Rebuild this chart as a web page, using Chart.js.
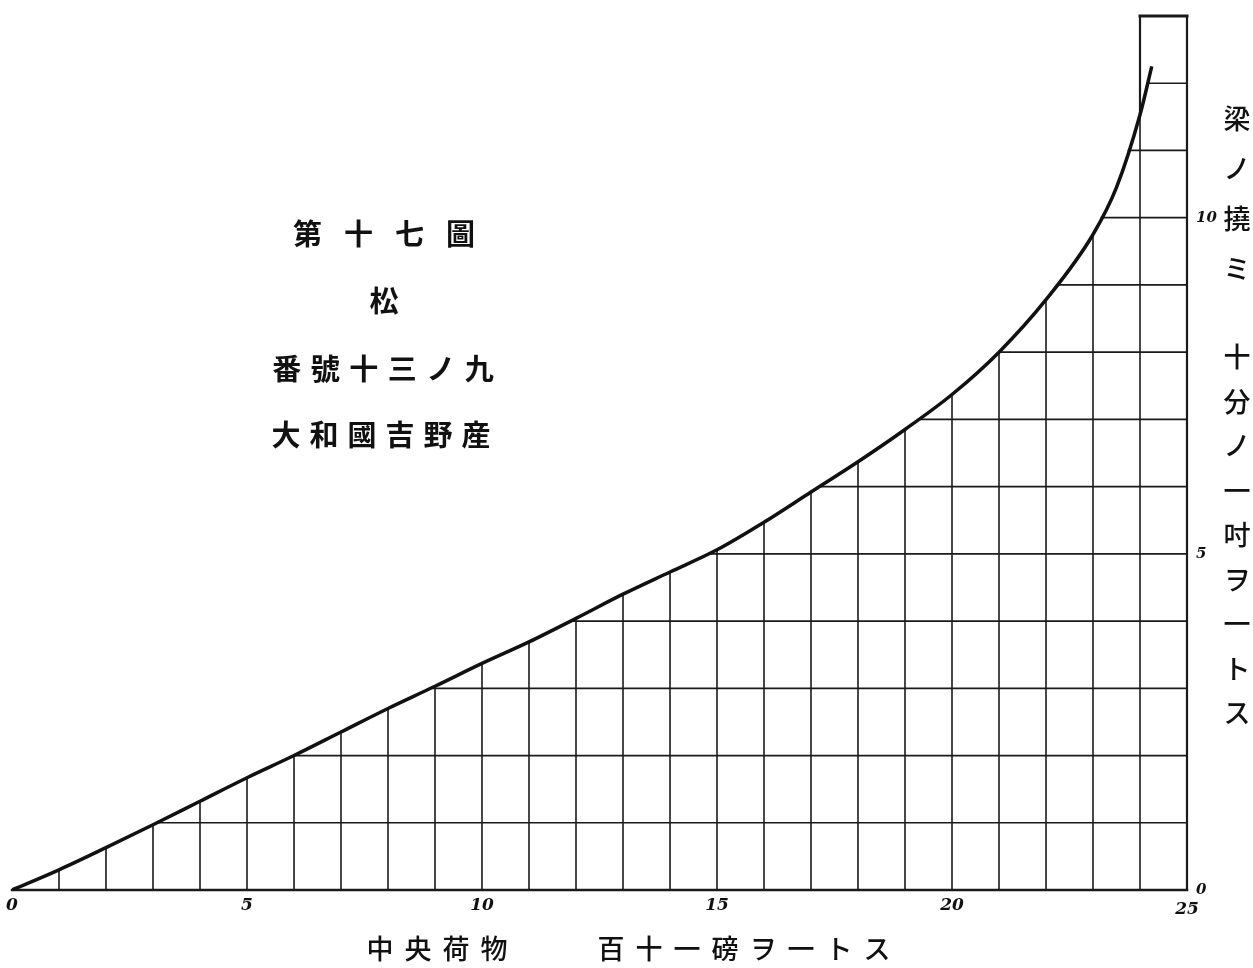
<!DOCTYPE html>
<html>
<head>
<meta charset="utf-8">
<script src="https://cdn.jsdelivr.net/npm/chart.js@4.4.0/dist/chart.umd.min.js"></script>
<style>
    html, body { margin: 0; padding: 0; background: #fff; }
    #wrap { position: relative; width: 1253px; height: 968px; overflow: hidden; }
    #chart { position: absolute; left: 0; top: 0; }
    .ch {
        position: absolute;
        transform: translate(-50%, -50%);
        font-family: "Noto Sans CJK JP", "Noto Sans CJK SC", sans-serif;
        font-weight: 700;
        color: #111;
        line-height: 1;
    }
    .ch.thin { font-weight: 500; }
</style>
</head>
<body>
<div id="wrap">
    <canvas id="chart" width="1253" height="968"></canvas>
</div>
<script>
// load at the centre (units of 110 lb) and deflection (tenths of an inch)
const loads = [0, 1, 2, 3, 4, 5, 6, 7, 8, 9, 10, 11, 12, 13, 14, 15, 16, 17, 18, 19, 20, 21, 22, 23, 23.5, 24, 24.25];
const deflections = [0, 0.30, 0.63, 0.97, 1.32, 1.67, 2.00, 2.35, 2.70, 3.03, 3.37, 3.69, 4.04, 4.40, 4.73, 5.06, 5.47, 5.92, 6.37, 6.85, 7.37, 8.00, 8.78, 9.75, 10.45, 11.53, 12.25];
const xTicks = [0, 5, 10, 15, 20, 25];
const yTicks = [0, 5, 10];
const xMax = 25;
const yMax = 13;

// texts
const titleLines = ['第十七圖', '松', '番號十三ノ九', '大和國吉野産'];
const rightTop = '梁ノ撓ミ';
const rightBottom = '十分ノ一吋ヲ一トス';
const bottomLeft = '中央荷物';
const bottomRight = '百十一磅ヲ一トス';

function curveAt(x) {
    for (let i = 1; i < loads.length; i++) {
        if (x <= loads[i]) {
            const t = (x - loads[i - 1]) / (loads[i] - loads[i - 1]);
            return deflections[i - 1] + t * (deflections[i] - deflections[i - 1]);
        }
    }
    return null;
}

function crossAt(level) {
    for (let i = 1; i < deflections.length; i++) {
        if (level <= deflections[i]) {
            const t = (level - deflections[i - 1]) / (deflections[i] - deflections[i - 1]);
            return loads[i - 1] + t * (loads[i] - loads[i - 1]);
        }
    }
    return null;
}

// grid drawn only below the curve, plus the closed box at the top right
const gridPlugin = {
    id: 'underGrid',
    beforeDatasetsDraw(chart) {
        const ctx = chart.ctx;
        const xs = chart.scales.x;
        const ys = chart.scales.y;
        ctx.save();
        ctx.strokeStyle = '#1a1a1a';
        ctx.lineCap = 'square';

        const vline = (x, y0, y1, w) => {
            ctx.lineWidth = w;
            ctx.beginPath();
            ctx.moveTo(xs.getPixelForValue(x), ys.getPixelForValue(y0));
            ctx.lineTo(xs.getPixelForValue(x), ys.getPixelForValue(y1));
            ctx.stroke();
        };

        // vertical lines
        for (let i = 1; i < 24; i++) {
            vline(i, 0, curveAt(i), 1.6);
        }
        vline(24, 0, curveAt(24), 1.6);
        vline(24, curveAt(24), yMax, 2.2);   // box side above the curve
        vline(xMax, 0, yMax, 2.2);

        // horizontal lines
        for (let k = 0; k <= yMax; k++) {
            let start = (k === yMax) ? 24 : crossAt(k);
            if (start === null) continue;
            ctx.lineWidth = (k === 0) ? 2.4 : (k === yMax ? 3 : 1.7);
            const py = ys.getPixelForValue(k);
            ctx.beginPath();
            ctx.moveTo(xs.getPixelForValue(start), py);
            ctx.lineTo(xs.getPixelForValue(xMax), py);
            ctx.stroke();
        }
        ctx.restore();
    },
    afterDraw(chart) {
        const ctx = chart.ctx;
        const xs = chart.scales.x;
        const ys = chart.scales.y;
        ctx.save();
        ctx.fillStyle = '#111';
        ctx.font = 'italic bold 17px "DejaVu Serif"';
        ctx.textAlign = 'center';
        ctx.textBaseline = 'middle';
        xTicks.forEach(v => {
            const dy = (v === xMax) ? 20 : 16;
            ctx.fillText(String(v), xs.getPixelForValue(v), ys.getPixelForValue(0) + dy);
        });
        ctx.font = 'italic bold 15px "DejaVu Serif"';
        ctx.textAlign = 'left';
        yTicks.forEach(v => {
            ctx.fillText(String(v), xs.getPixelForValue(xMax) + 9, ys.getPixelForValue(v));
        });
        ctx.restore();
    }
};

new Chart(document.getElementById('chart').getContext('2d'), {
    type: 'line',
    data: {
        datasets: [{
            data: loads.map((x, i) => ({ x: x, y: deflections[i] })),
            borderColor: '#111',
            borderWidth: 3.5,
            pointRadius: 0,
            cubicInterpolationMode: 'monotone',
            fill: false
        }]
    },
    options: {
        responsive: false,
        devicePixelRatio: 1,
        animation: false,
        layout: { padding: { left: 12, right: 66, top: 16, bottom: 78 } },
        scales: {
            x: { type: 'linear', min: 0, max: xMax, display: false },
            y: { type: 'linear', min: 0, max: yMax, display: false }
        },
        plugins: {
            legend: { display: false },
            tooltip: { enabled: false }
        }
    },
    plugins: [gridPlugin]
});

// text placed as real text on the page
const wrap = document.getElementById('wrap');
function putChar(c, x, y, size, thin) {
    const d = document.createElement('div');
    d.className = thin ? 'ch thin' : 'ch';
    d.textContent = c;
    d.style.left = x + 'px';
    d.style.top = y + 'px';
    d.style.fontSize = size + 'px';
    wrap.appendChild(d);
}
function putRow(text, cx, cy, step, size, thin) {
    const chars = Array.from(text);
    const x0 = cx - step * (chars.length - 1) / 2;
    chars.forEach((c, i) => putChar(c, x0 + i * step, cy, size, thin));
}
function putColumn(text, cx, y0, step, size, thin) {
    Array.from(text).forEach((c, i) => putChar(c, cx, y0 + i * step, size, thin));
}

putRow(titleLines[0], 384, 232, 51, 29);
putRow(titleLines[1], 384, 299, 0, 29);
putRow(titleLines[2], 383, 367, 38.5, 29);
putRow(titleLines[3], 381, 433, 38, 29);

putColumn(rightTop, 1237, 117, 50, 27, true);
putColumn(rightBottom, 1237, 355, 44.5, 27, true);

putRow(bottomLeft, 437, 947, 38, 27, true);
putRow(bottomRight, 744, 947, 38, 27, true);
</script>
</body>
</html>
